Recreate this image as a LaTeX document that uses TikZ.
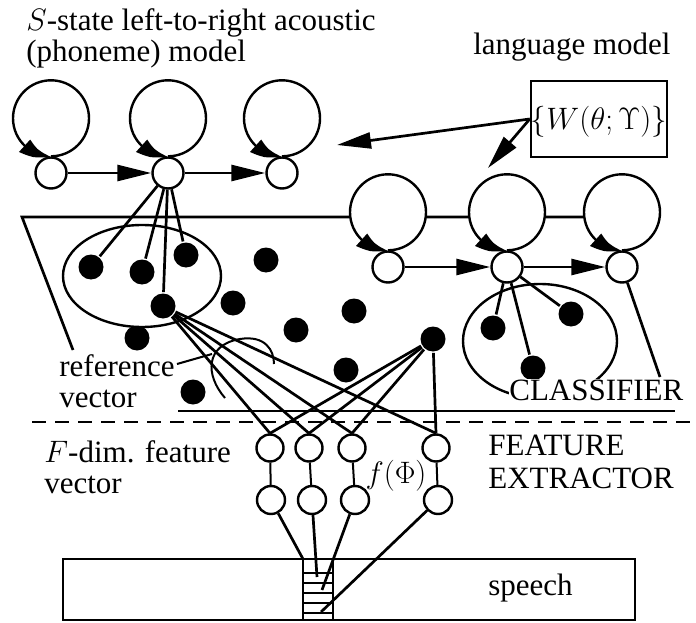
\documentclass[tikz,border=0pt]{standalone}
\usepackage{fix-cm}
\usepackage{fontspec}
\setmainfont{Liberation Serif}
\usetikzlibrary{shapes.geometric,arrows.meta,bending,calc}

\begin{document}
\begin{tikzpicture}[
    x=1pt, y=-1pt,
    line width=2.7pt,
    every node/.append style={font=\fontsize{31}{31}\selectfont},
    statenode/.style={circle, draw, fill=white, inner sep=0pt, minimum size=31pt, line width=2.4pt},
    featnode/.style={circle, draw, fill=white, inner sep=0pt, minimum size=27pt, line width=2.4pt},
    refdot/.style={circle, fill=black, inner sep=0pt, minimum size=25pt},
    cluster/.style={ellipse, draw, fill=white, inner sep=0pt, line width=2.4pt},
    txt/.style={align=left, inner sep=0pt, anchor=base west},
    arrow/.style={-{Triangle[length=34pt,width=16pt]}},
    looparrow/.style={-{Triangle[length=30pt,width=16pt,bend]}, line width=2.4pt}
]
    \useasboundingbox (0,0) rectangle (696,623);

    % labels (anchored at the baseline of the last line)
    \node [txt] (title) at (25,62) {$S$-state left-to-right acoustic\\(phoneme) model};
    \node [txt] (lmtext) at (472,55) {language model};
    \node [draw, inner sep=0pt, minimum width=128pt, minimum height=76pt, line width=2.4pt, text depth=2pt] (wbox) at (599,119) {$\{W(\theta;\Upsilon)\}$};
    \node [txt] (reftext) at (58,407) {reference\\vector};
    \node [txt] (fdimtext) at (43,493) {$F$-dim. feature\\vector};
    \node [txt, font=\fontsize{31}{33}\selectfont] (fetext) at (487,488) {FEATURE\\EXTRACTOR};
    \node (phi) at (396,476) {$f(\Phi)$};

    % plane of the classifier
    \draw (73,350) -- (22,217) -- (621,217);
    \draw (178,411) -- (675,411);
    \draw [dash pattern=on 14pt off 9pt] (32,422) -- (692,422);

    % reference vectors
    \node [refdot] (p9) at (137,338) {};
    \node [cluster, minimum width=158pt, minimum height=102pt] (lclus) at (142,276) {};
    \node [cluster, minimum width=154pt, minimum height=114pt] (rclus) at (540,341) {};

    % acoustic models
    \node [statenode] (a1) at (51,173) {};
    \node [statenode] (a2) at (168,173) {};
    \node [statenode] (a3) at (282,173) {};
    \node [statenode] (b1) at (388,267) {};
    \node [statenode] (b2) at (507,267) {};
    \node [statenode] (b3) at (622,267) {};
    \foreach \s in {a1,a2,a3,b1,b2,b3} {
        \fill [white] ($(\s.north)+(0,-38)$) circle [radius=38];
        \draw [looparrow] (\s.north) arc [start angle=90, end angle=-270, radius=38];
    }
    \draw [arrow] (a1) -- (a2);
    \draw [arrow] (a2) -- (a3);
    \draw [arrow] (b1) -- (b2);
    \draw [arrow] (b2) -- (b3);

    \coordinate (hmmL) at (337,145);
    \coordinate (hmmR) at (488,168);
    \draw [arrow] (wbox.west) -- (hmmL);
    \draw [arrow] (wbox.west) -- (hmmR);

    \node [refdot] (p1) at (91,267) {};
    \node [refdot] (p2) at (142,272) {};
    \node [refdot] (p3) at (186,255) {};
    \node [refdot] (p4) at (163,306) {};
    \node [refdot] (p5) at (266,260) {};
    \node [refdot] (p6) at (233,303) {};
    \node [refdot] (p7) at (296,330) {};
    \node [refdot] (p8) at (354,311) {};
    \node [refdot] (p10) at (346,370) {};
    \node [refdot] (p11) at (193,392) {};
    \node [refdot] (p12) at (433,339) {};
    \node [refdot] (q1) at (493,328) {};
    \node [refdot] (q2) at (571,314) {};
    \node [refdot] (q3) at (533,368) {};
    \foreach \d in {p1,p2,p3,p4} \draw (a2) -- (\d);
    \foreach \d in {q1,q2,q3} \draw (b2) -- (\d);
    \coordinate (edge) at (660,377);
    \draw (b3) -- (edge);

    \node [txt, fill=white] (classtext) at (508,400) {CLASSIFIER};

    % pointer of the reference vector
    \coordinate (lead) at (177,364);
    \coordinate (hook) at (212,354);
    \draw [line width=2pt] (lead) -- (hook);
    \draw [line width=2pt] (225,398) .. controls (205,375) and (205,345) .. (240,339) .. controls (265,335) and (274,350) .. (274,364);

    % feature extractor
    \node [featnode] (f1) at (270,448) {};
    \node [featnode] (f2) at (309,448) {};
    \node [featnode] (f3) at (352,448) {};
    \node [featnode] (f4) at (436,448) {};
    \node [featnode, minimum size=28pt] (g1) at (271,500) {};
    \node [featnode, minimum size=28pt] (g2) at (312,500) {};
    \node [featnode, minimum size=28pt] (g3) at (355,500) {};
    \node [featnode, minimum size=28pt] (g4) at (438,500) {};
    \foreach \i in {1,2,3,4} {
        \draw [line width=2pt] (f\i) -- (g\i);
        \draw (p4) -- (f\i.north);
        \draw (p12) -- (f\i.north);
    }

    % speech
    \node [draw, inner sep=0pt, minimum width=572pt, minimum height=61pt, line width=2.4pt] (speech) at (349,589.5) {};
    \node [txt] (speechtext) at (487,595) {speech};
    \node [draw, inner sep=0pt, minimum width=30pt, minimum height=61pt, line width=2.4pt] (frame) at (318,589.5) {};
    \foreach \y in {573,583,593,603,613}
        \draw [line width=1.8pt] (303,\y) -- (333,\y);
    \coordinate (t1) at (303,559);
    \coordinate (t2) at (317,577);
    \coordinate (t3) at (322,590);
    \coordinate (t4) at (321,612);
    \foreach \i in {1,2,3,4} \draw (g\i) -- (t\i);
\end{tikzpicture}
\end{document}
